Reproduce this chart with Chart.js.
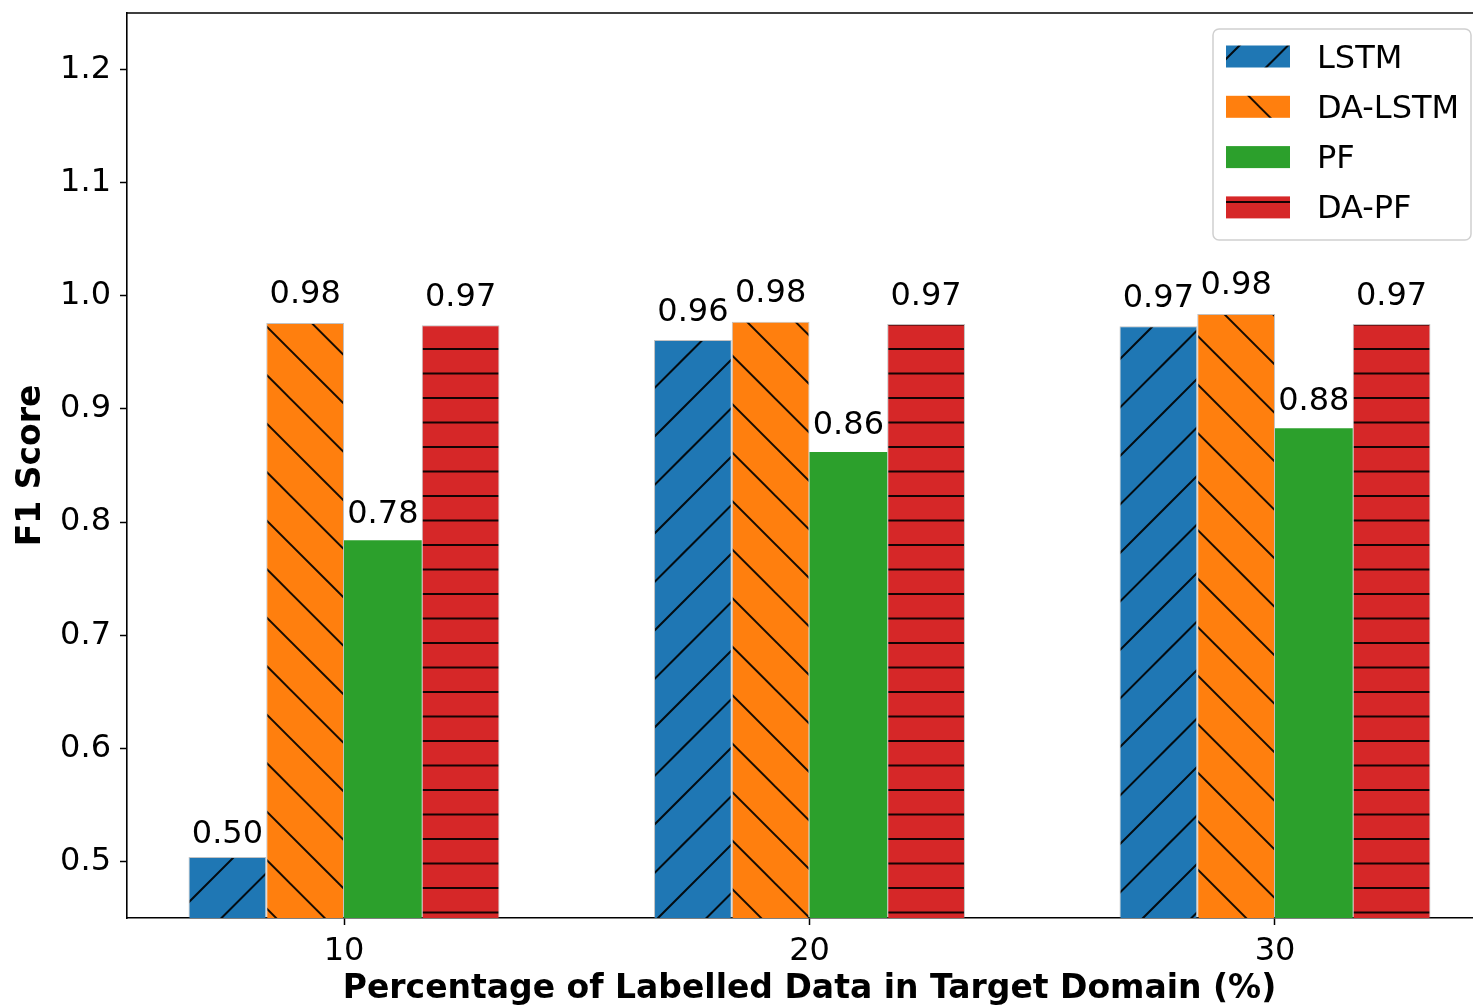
<!DOCTYPE html>
<html>
<head>
<meta charset="utf-8">
<script src="https://cdn.jsdelivr.net/npm/chart.js@4/dist/chart.umd.min.js"></script>
<style>
  html, body { margin: 0; padding: 0; background: #fff; overflow: hidden; }
  #chart { display: block; }
</style>
</head>
<body>
<!-- the figure is a bit wider than the window, its right spine falls off the page like in the original -->
<canvas id="chart" width="1493" height="1006"></canvas>
<script>
var categories = [10, 20, 30];
var seriesNames = ['LSTM', 'DA-LSTM', 'PF', 'DA-PF'];
var lstm = [0.504, 0.961, 0.973];
var daLstm = [0.976, 0.977, 0.984];
var pf = [0.784, 0.862, 0.883];
var daPf = [0.974, 0.975, 0.975];
var yTicks = [0.5, 0.6, 0.7, 0.8, 0.9, 1.0, 1.1, 1.2];

var FONT = 'DejaVu Sans';

/**
 * Build a hatch pattern on top of a solid colour
 */
function makeHatch(color, kind) {
    var size = kind == '-' ? 98 : 97;
    var c = document.createElement('canvas');
    c.width = size;
    c.height = size;
    var g = c.getContext('2d');
    g.fillStyle = color;
    g.fillRect(0, 0, size, size);
    if (!kind) {
        return g.createPattern(c, 'repeat');
    }
    g.strokeStyle = 'rgba(0,0,0,0.9)';
    g.lineWidth = 2;
    g.beginPath();
    var k;
    if (kind == '/') {
        // lines x + y = c
        var cs = [24 - 48.5, 24, 72.5, 121, 169.5, 218];
        for (k = 0; k < cs.length; k++) {
            g.moveTo(cs[k] + 2, -2);
            g.lineTo(cs[k] - size - 2, size + 2);
        }
    } else if (kind == '\\') {
        // lines y - x = c
        var ds = [-134.2, -85.7, -37.2, 11.3, 59.8, 108.3];
        for (k = 0; k < ds.length; k++) {
            g.moveTo(-2, ds[k] - 2);
            g.lineTo(size + 2, ds[k] + size + 2);
        }
    } else {
        var hs = [6, 30.5, 55, 79.5];
        for (k = 0; k < hs.length; k++) {
            g.moveTo(0, hs[k]);
            g.lineTo(size, hs[k]);
        }
    }
    g.stroke();
    return g.createPattern(c, 'repeat');
}

var colors = ['#1f77b4', '#ff7f0e', '#2ca02c', '#d62728'];
var hatches = ['/', '\\', null, '-'];
var values = [lstm, daLstm, pf, daPf];

var datasets = [];
for (var s = 0; s < values.length; s++) {
    var pts = [];
    for (var i = 0; i < categories.length; i++) {
        pts.push({x: categories[i], y: values[s][i]});
    }
    datasets.push({
        label: seriesNames[s],
        data: pts,
        backgroundColor: makeHatch(colors[s], hatches[s]),
        borderColor: hatches[s] ? 'rgba(120,120,120,0.45)' : colors[s],
        borderWidth: hatches[s] ? 1 : 0,
        borderSkipped: false,
        barPercentage: 1.0,
        categoryPercentage: 0.668
    });
}

// value labels on top of the bars, top/right spines, and the legend box
var extras = {
    id: 'extras',
    afterDatasetsDraw: function(chart) {
        var ctx = chart.ctx;
        var yScale = chart.scales.y;
        var area = chart.chartArea;
        ctx.save();
        ctx.font = '32px ' + FONT;
        ctx.fillStyle = '#000';
        ctx.textAlign = 'center';
        ctx.textBaseline = 'alphabetic';
        chart.data.datasets.forEach(function(ds, di) {
            var meta = chart.getDatasetMeta(di);
            meta.data.forEach(function(bar, idx) {
                var v = ds.data[idx].y;
                ctx.fillText(v.toFixed(2), bar.x, yScale.getPixelForValue(v * 1.01) - 8.5);
            });
        });

        ctx.strokeStyle = '#000';
        ctx.lineWidth = 1.6;
        ctx.beginPath();
        ctx.moveTo(area.left, area.top);
        ctx.lineTo(area.right, area.top);
        ctx.lineTo(area.right, area.bottom);
        ctx.stroke();

        // legend
        var lx = 1213, ly = 29, lw = 258, lh = 211;
        ctx.beginPath();
        ctx.roundRect(lx, ly, lw, lh, 6);
        ctx.fillStyle = 'rgba(255,255,255,0.8)';
        ctx.fill();
        ctx.strokeStyle = '#d0d0d0';
        ctx.lineWidth = 1.5;
        ctx.stroke();

        ctx.textAlign = 'left';
        chart.data.datasets.forEach(function(ds, di) {
            var cy = 56.5 + di * 50.3;
            ctx.fillStyle = ds.backgroundColor;
            ctx.fillRect(1226, cy - 11, 64, 22);
            ctx.fillStyle = '#000';
            ctx.fillText(ds.label, 1317, cy + 11);
        });
        ctx.restore();
    }
};

new Chart(document.getElementById('chart'), {
    type: 'bar',
    data: { datasets: datasets },
    options: {
        responsive: false,
        animation: false,
        devicePixelRatio: 1,
        layout: { padding: { top: 13, right: 1, left: 0, bottom: 0 } },
        plugins: {
            legend: { display: false },
            tooltip: { enabled: false }
        },
        scales: {
            x: {
                type: 'linear',
                min: 5.338,
                max: 34.662,
                offset: false,
                afterBuildTicks: function(scale) {
                    scale.ticks = categories.map(function(c) { return {value: c}; });
                },
                afterFit: function(scale) {
                    scale.height = 88;
                    scale.paddingLeft = 0;
                    scale.paddingRight = 0;
                },
                grid: {
                    offset: false,
                    drawOnChartArea: false,
                    drawTicks: true,
                    tickLength: 7,
                    tickWidth: 1.5,
                    tickColor: '#000'
                },
                border: { display: true, color: '#000', width: 1.6 },
                ticks: {
                    color: '#000',
                    font: { family: FONT, size: 32 },
                    padding: 7,
                    maxRotation: 0,
                    callback: function(v) { return String(v); }
                },
                title: {
                    display: true,
                    text: 'Percentage of Labelled Data in Target Domain (%)',
                    color: '#000',
                    font: { family: FONT, size: 33, weight: 'bold' },
                    padding: { top: 0, bottom: -3 }
                }
            },
            y: {
                min: 0.45,
                max: 1.25,
                afterBuildTicks: function(scale) {
                    scale.ticks = yTicks.map(function(t) { return {value: t}; });
                },
                afterFit: function(scale) {
                    scale.width = 127;
                    scale.paddingTop = 0;
                    scale.paddingBottom = 0;
                },
                grid: {
                    drawOnChartArea: false,
                    drawTicks: true,
                    tickLength: 7,
                    tickWidth: 1.5,
                    tickColor: '#000'
                },
                border: { display: true, color: '#000', width: 1.6 },
                ticks: {
                    color: '#000',
                    font: { family: FONT, size: 32 },
                    padding: 9,
                    callback: function(v) { return Number(v).toFixed(1); }
                },
                title: {
                    display: true,
                    text: 'F1 Score',
                    color: '#000',
                    font: { family: FONT, size: 33, weight: 'bold' },
                    padding: { top: 12, bottom: 0 }
                }
            }
        }
    },
    plugins: [extras]
});
</script>
</body>
</html>
